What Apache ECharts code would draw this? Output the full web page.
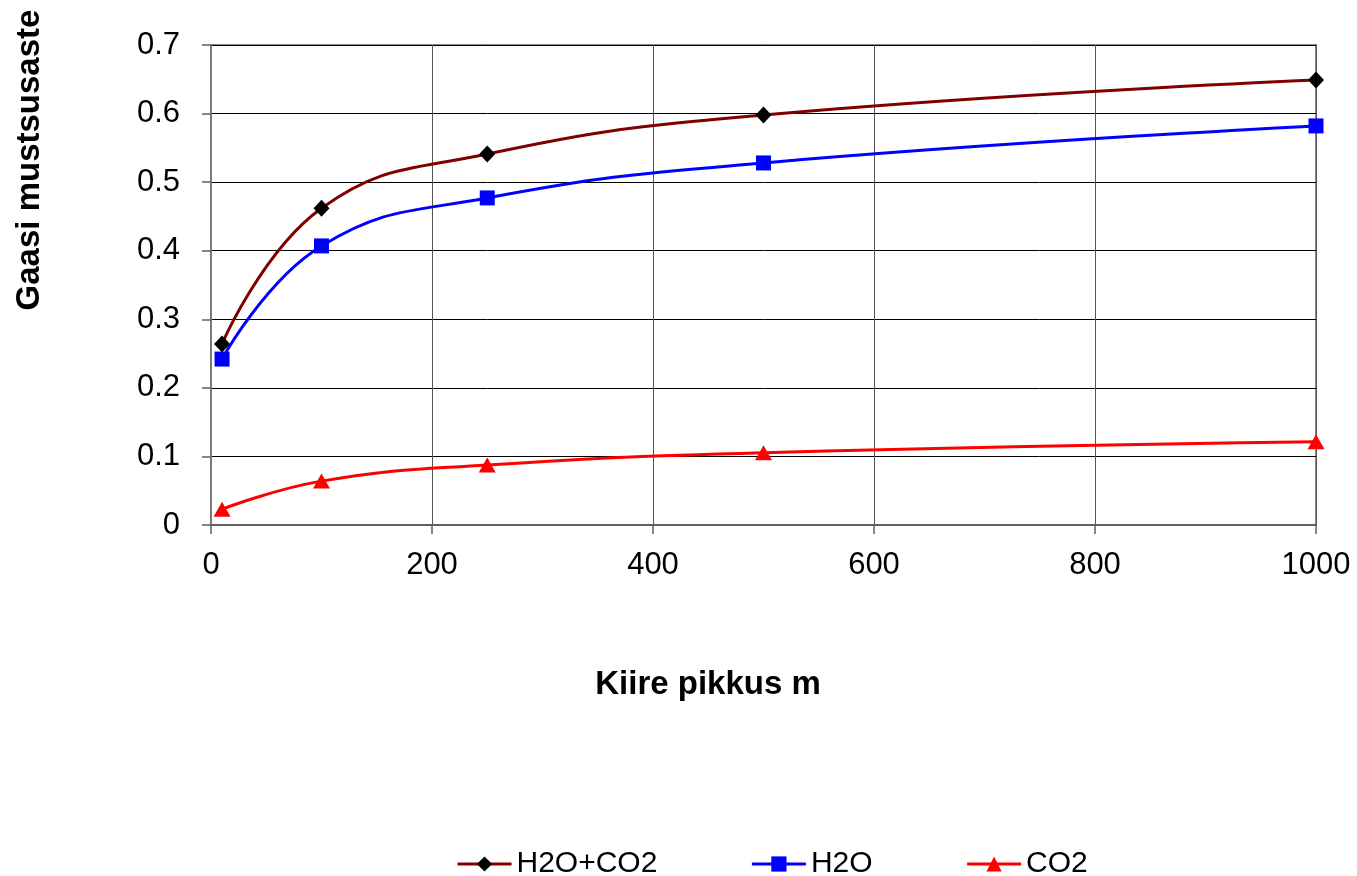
<!DOCTYPE html>
<html>
<head>
<meta charset="utf-8">
<script src="https://cdn.jsdelivr.net/npm/echarts@6/dist/echarts.min.js"></script>
<style>
html,body{margin:0;padding:0;background:#fff;}
#c{width:1357px;height:876px;}
</style>
</head>
<body>
<div id="c"></div>
<script>
const xValues = [10, 100, 250, 500, 1000];
const seriesNames = ['H2O+CO2', 'H2O', 'CO2'];
const h2oCo2 = [0.264, 0.462, 0.541, 0.598, 0.649];
const h2o = [0.242, 0.407, 0.477, 0.528, 0.582];
const co2 = [0.023, 0.064, 0.0875, 0.1055, 0.1215];
const xTitle = 'Kiire pikkus m';
const yTitle = 'Gaasi mustsusaste';

const FONT = '"Liberation Sans", Arial, sans-serif';
const pairs = (ys) => xValues.map((x, i) => [x, ys[i]]);

const chart = echarts.init(document.getElementById('c'), null, {renderer: 'canvas'});
chart.setOption({
  backgroundColor: '#ffffff',
  animation: false,
  textStyle: {fontFamily: FONT},
  grid: {left: 211, right: 41, top: 45, bottom: 351, show: true, borderColor: '#8a8a8a', borderWidth: 2, backgroundColor: 'transparent'},
  xAxis: {
    type: 'value', min: 0, max: 1000, interval: 200,
    axisLine: {show: true, onZero: false, lineStyle: {color: '#606060', width: 2}},
    axisTick: {show: true, inside: false, length: 9, lineStyle: {color: '#606060', width: 1.5}},
    axisLabel: {color: '#000', fontSize: 31, fontFamily: FONT, margin: 25,
      formatter: v => String(v)},
    splitLine: {show: true, lineStyle: {color: '#555555', width: 1}}
  },
  yAxis: {
    type: 'value', min: 0, max: 0.7, interval: 0.1,
    axisLine: {show: true, lineStyle: {color: '#7a7a7a', width: 2}},
    axisTick: {show: true, inside: false, length: 9, lineStyle: {color: '#606060', width: 1.5}},
    axisLabel: {color: '#000', fontSize: 31, fontFamily: FONT, margin: 31,
      formatter: v => (v === 0 ? '0' : v.toFixed(1))},
    splitLine: {show: true, lineStyle: {color: '#000000', width: 1}}
  },
  legend: {
    left: 451, top: 844,
    itemWidth: 54, itemHeight: 19, itemGap: 93,
    lineStyle: {width: 3},
    textStyle: {color: '#000', fontSize: 30, fontFamily: FONT, padding: [0, 0, 0, 0]},
    data: seriesNames
  },
  graphic: [
    {type: 'text', x: 30, y: 160, rotation: Math.PI / 2,
      style: {text: yTitle, font: 'bold 33px ' + FONT, fill: '#000', textAlign: 'center', textVerticalAlign: 'middle'}},
    {type: 'text', x: 708, y: 685,
      style: {text: xTitle, font: 'bold 33px ' + FONT, fill: '#000', textAlign: 'center', textVerticalAlign: 'middle'}}
  ],
  series: [
    {name: seriesNames[0], type: 'line', data: pairs(h2oCo2), smooth: 0.45,
      symbol: 'diamond', symbolSize: [16, 17],
      lineStyle: {color: '#800000', width: 3}, itemStyle: {color: '#000000'}, z: 3},
    {name: seriesNames[1], type: 'line', data: pairs(h2o), smooth: 0.45,
      symbol: 'rect', symbolSize: 15,
      lineStyle: {color: '#0000ff', width: 3}, itemStyle: {color: '#0000ff'}, z: 2},
    {name: seriesNames[2], type: 'line', data: pairs(co2), smooth: 0.45,
      symbol: 'triangle', symbolSize: [17, 15],
      lineStyle: {color: '#ff0000', width: 3}, itemStyle: {color: '#ff0000'}, z: 2}
  ]
});
</script>
</body>
</html>
